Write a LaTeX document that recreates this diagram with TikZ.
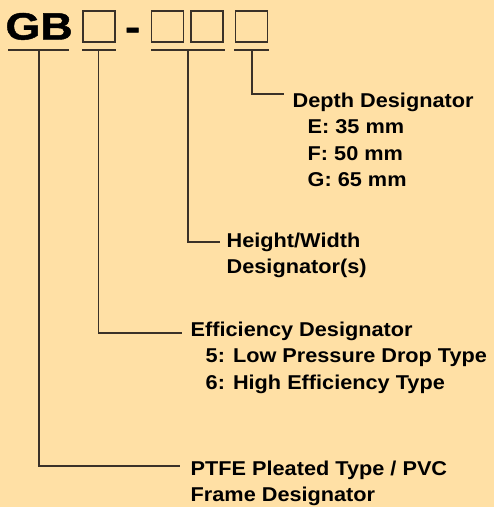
\documentclass[tikz,border=0pt]{standalone}
\usepackage{fontspec}
\setmainfont{Liberation Sans}[FakeStretch=1.085]
\newfontfamily\gbfont{Liberation Sans Bold}[FakeStretch=1.18,FakeBold=1.2]
\definecolor{bg}{HTML}{FFE0A5}
\definecolor{ln}{HTML}{3A3128}
\begin{document}
\begin{tikzpicture}[x=1pt,y=-1pt,
  codebox/.style={draw=ln,line width=1.8pt,minimum width=32pt,minimum height=31pt,inner sep=0pt},
  uline/.style={draw=ln,line width=1.5pt},
  conn/.style={draw=ln,line width=1.4pt},
  lbl/.style={font=\bfseries\fontsize{20}{26.5}\selectfont,anchor=base west,inner sep=0pt,align=left},
  code/.style={font=\gbfont\fontsize{38}{38}\selectfont,inner sep=0pt,anchor=base west}]
\fill[bg] (0,0) rectangle (494,507);
\useasboundingbox (0,0) rectangle (494,507);
% model code
\node[code] (gb) at (5.3,39.5) {GB};
\node[codebox] (b1) at (99,26.5) {};
\node[code] (dash) at (125,40) {-};
\node[codebox] (b2) at (167.5,26.5) {};
\node[codebox] (b3) at (207,26.5) {};
\node[codebox] (b4) at (251.5,26.5) {};
% underlines
\draw[uline] (8,50) -- (69,50);
\draw[uline] (82,50) -- (116,50);
\draw[uline] (151,50) -- (225,50);
\draw[uline] (234,50) -- (269,50);
\coordinate (u1) at (39,50);
\coordinate (u2) at (98.5,50);
\coordinate (u3) at (188,50);
\coordinate (u4) at (252,50);
% connector ends
\coordinate (e1) at (180,466);
\coordinate (e2) at (182,333);
\coordinate (e3) at (220,242);
\coordinate (e4) at (284,94);
% labels (base anchor = baseline of the last line)
\node[lbl] (dep) at (292.5,186.5) {Depth Designator\\\hspace*{15pt}E: 35 mm\\\hspace*{15pt}F: 50 mm\\\hspace*{15pt}G: 65 mm};
\node[lbl] (hw) at (226.5,273.5) {Height/Width\\Designator(s)};
\node[lbl] (eff) at (190.5,389) {Efficiency Designator\\\hspace*{15pt}5: Low Pressure Drop Type\\\hspace*{15pt}6: High Efficiency Type};
\node[lbl] (ptfe) at (190.5,501.5) {PTFE Pleated Type / PVC\\Frame Designator};
% connectors
\draw[conn] (u1) |- (e1);
\draw[conn] (u2) |- (e2);
\draw[conn] (u3) |- (e3);
\draw[conn] (u4) |- (e4);
\end{tikzpicture}
\end{document}
